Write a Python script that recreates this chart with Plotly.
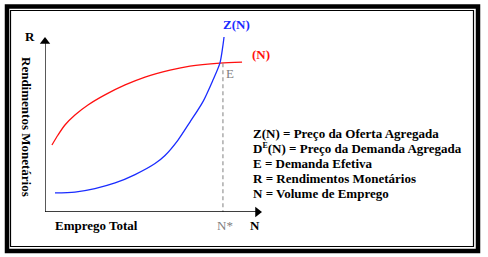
import plotly.graph_objects as go

# ---- data (conceptual curves, in axis units) ----
N_demand = [0.32, 0.60, 0.92, 1.38, 1.98, 2.76, 3.69, 4.61, 5.76, 6.68, 8.06, 9.08]
D_demand = [3.83, 4.40, 4.97, 5.54, 6.11, 6.69, 7.26, 7.71, 8.11, 8.34, 8.51, 8.57]
N_supply = [0.46, 1.38, 2.30, 3.23, 4.15, 5.07, 5.53, 6.13, 6.68, 7.28, 7.74, 8.06, 8.19, 8.25]
Z_supply = [1.09, 1.14, 1.34, 1.66, 2.14, 2.77, 3.23, 4.11, 5.14, 6.31, 7.54, 8.51, 9.43, 10.0]
N_star = 8.20
E_level = 8.50
legend_lines = [
    "Z(N) = Preço da Oferta Agregada",
    "D<sup><span style='font-size:8px'>E</span></sup>(N) = Preço da Demanda Agregada",
    "E = Demanda Efetiva",
    "R = Rendimentos Monetários",
    "N = Volume de Emprego",
]

W, H = 488, 257
L, R_, T, B = 45, 226, 20, 45
PW, PH = W - L - R_, H - T - B
YMAX = 10 * PH / 175.0


def px(x):
    return (x - L) / PW


def py(y):
    return (H - B - y) / PH


FONT = "Liberation Serif, Times New Roman, serif"
fig = go.Figure()

fig.add_trace(go.Scatter(x=N_demand, y=D_demand, mode="lines",
                         line=dict(color="#ff1010", width=1.3, shape="spline", smoothing=0.8),
                         hoverinfo="skip"))
fig.add_trace(go.Scatter(x=N_supply, y=Z_supply, mode="lines",
                         line=dict(color="#1a2cff", width=1.3, shape="spline", smoothing=0.8),
                         hoverinfo="skip"))
# dashed line at N*
fig.add_trace(go.Scatter(x=[N_star, N_star], y=[E_level, 0], mode="lines",
                         line=dict(color="#808080", width=1, dash="4px,3px"), hoverinfo="skip"))
# axes with arrows
fig.add_trace(go.Scatter(x=[0, 0, 9.8], y=[9.8, 0, 0], mode="lines",
                         line=dict(color="black", width=1.3), hoverinfo="skip"))
fig.add_trace(go.Scatter(x=[0, 10 - 4.5 / (PW / 10)], y=[10 - 4.5 / 17.5, 0], mode="markers",
                         marker=dict(symbol=["triangle-up", "triangle-right"], size=9,
                                     color="black", line=dict(width=0)),
                         cliponaxis=False, hoverinfo="skip"))

shapes = [
    dict(type="rect", xref="paper", yref="paper", x0=px(7), x1=px(478), y0=py(6.5), y1=py(251),
         line=dict(color="black", width=4.5)),
    dict(type="rect", xref="paper", yref="paper", x0=px(10.5), x1=px(473.5), y0=py(10.5), y1=py(246.5),
         line=dict(color="black", width=1.2)),
]

ann = []


def text(x, y, s, color="black", bold=True, size=13, angle=0, xanchor="center"):
    ann.append(dict(xref="paper", yref="paper", x=px(x), y=py(y), text=(f"<b>{s}</b>" if bold else s),
                    showarrow=False, xanchor=xanchor, yanchor="middle", textangle=angle,
                    font=dict(family=FONT, size=size, color=color)))


text(30, 37, "R")
text(27, 127, "Rendimentos Monetários", angle=90)
text(96, 225, "Emprego Total")
text(225, 225, "N*", color="#808080", bold=False)
text(255, 225, "N")
text(230, 73, "E", color="#808080", bold=False)
text(236, 25, "Z(N)", color="#1a2cff")
text(261, 54, "(N)", color="#ff1010")
for i, s in enumerate(legend_lines):
    text(251, 133 + 15 * i, s, xanchor="left")

fig.update_layout(
    width=W, height=H, margin=dict(l=L, r=R_, t=T, b=B),
    paper_bgcolor="white", plot_bgcolor="white", showlegend=False,
    xaxis=dict(range=[0, 10], visible=False, fixedrange=True),
    yaxis=dict(range=[0, YMAX], visible=False, fixedrange=True),
    shapes=shapes, annotations=ann,
)
fig.write_html("out.html")
